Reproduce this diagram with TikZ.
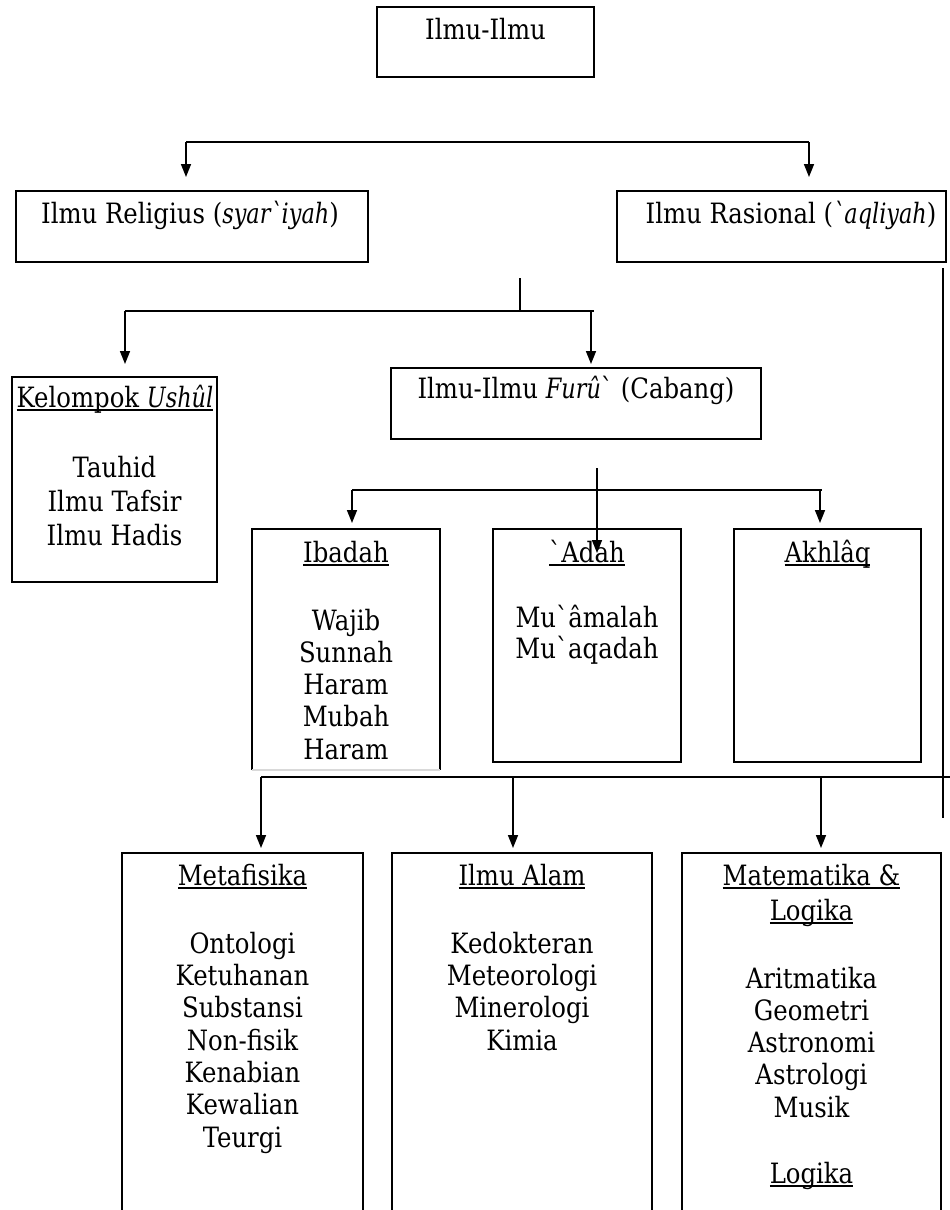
\documentclass[tikz,border=0pt]{standalone}
\usepackage{fontspec}
\setmainfont{DejaVu Serif}[FakeStretch=0.87,Ligatures=TeXOff,
  ItalicFeatures={FakeStretch=0.8}]
\usetikzlibrary{arrows.meta}
% underline placed close to the baseline, crossing descenders
\newsavebox{\ulsave}
\newcommand{\ulbar}[1]{\sbox{\ulsave}{#1}\rlap{\rule[-3.5pt]{\wd\ulsave}{1.6pt}}\usebox{\ulsave}}
\begin{document}
\begin{tikzpicture}[x=1pt,y=-1pt,
  frame/.style={draw, line width=1.8pt, inner sep=0pt, outer sep=0pt},
  hollow/.style={inner sep=0pt, outer sep=0pt},
  edge/.style={line width=1.8pt},
  txt/.style={anchor=base, inner sep=0pt, font=\fontsize{28}{32.4}\selectfont},
  bus/.style={line width=2.6pt},
  arr/.style={line width=1.6pt, -{Triangle[width=10pt,length=13pt]}}]
\useasboundingbox (0,0) rectangle (950,1210);

% ---------- boxes ----------
\node[frame, minimum width=217pt, minimum height=70pt] (top)   at (485.5,42) {};
\node[frame, minimum width=352pt, minimum height=71pt] (relig) at (192,226.5) {};
\node[frame, minimum width=329pt, minimum height=71pt] (rasio) at (781.5,226.5) {};
\node[frame, minimum width=205pt, minimum height=205pt] (kel)  at (114.5,479.5) {};
\node[frame, minimum width=370pt, minimum height=71pt] (furu)  at (576,403.5) {};
\node[hollow, minimum width=188pt, minimum height=241pt] (ibadah) at (346,649.5) {};
\node[frame, minimum width=188pt, minimum height=233pt] (adah)   at (587,645.5) {};
\node[frame, minimum width=187pt, minimum height=233pt] (akhlaq) at (827.5,645.5) {};
\node[frame, minimum width=241pt, minimum height=377pt] (meta)  at (242.5,1041.5) {};
\node[frame, minimum width=260pt, minimum height=377pt] (alam)  at (522,1041.5) {};
\node[frame, minimum width=259pt, minimum height=377pt] (matem) at (811.5,1041.5) {};

% Ibadah box: three dark sides, faint bottom
\draw[edge] (ibadah.south west) -- (ibadah.north west) -- (ibadah.north east) -- (ibadah.south east);
\draw[line width=1.5pt, black!15] (ibadah.south west) -- (ibadah.south east);

% ---------- texts ----------
\node[txt] (topT)   at (485.5,39) {Ilmu-Ilmu};
\node[txt] (religT) at (190,223) {Ilmu Religius (\textit{syar`iyah})};
\node[txt] (rasioT) at (791,223) {Ilmu Rasional (\textit{`aqliyah})};
\node[txt] (kelT)   at (115,407) {\ulbar{Kelompok \textit{Ushûl}}};
\node[txt] (kel1)   at (114.5,477) {Tauhid};
\node[txt] (kel2)   at (114.5,511) {Ilmu Tafsir};
\node[txt] (kel3)   at (114.5,545) {Ilmu Hadis};
\node[txt] (furuT)  at (576,398) {Ilmu-Ilmu \textit{Furû}` (Cabang)};

\node[txt] (ibadahT) at (346,562) {\ulbar{Ibadah}};
\foreach \t [count=\i] in {Wajib,Sunnah,Haram,Mubah,Haram}
  \node[txt] (ibadah-\i) at (346,{630+32.25*(\i-1)}) {\t};
\node[txt] (adahT) at (587,562) {\ulbar{`Adah}};
\node[txt] (adah-1) at (587,627) {Mu`âmalah};
\node[txt] (adah-2) at (587,658) {Mu`aqadah};
\node[txt] (akhlaqT) at (827.5,562) {\ulbar{Akhlâq}};

\node[txt] (metaT) at (242.5,885) {\ulbar{Metafisika}};
\foreach \t [count=\i] in {Ontologi,Ketuhanan,Substansi,Non-fisik,Kenabian,Kewalian,Teurgi}
  \node[txt] (meta-\i) at (242.5,{953+32.35*(\i-1)}) {\t};
\node[txt] (alamT) at (522,885) {\ulbar{Ilmu Alam}};
\foreach \t [count=\i] in {Kedokteran,Meteorologi,Minerologi,Kimia}
  \node[txt] (alam-\i) at (522,{953+32.35*(\i-1)}) {\t};
\node[txt] (matT1) at (811.5,885) {\ulbar{Matematika \&}};
\node[txt] (matT2) at (811.5,920) {\ulbar{Logika}};
\foreach \t [count=\i] in {Aritmatika,Geometri,Astronomi,Astrologi,Musik}
  \node[txt] (mat-\i) at (811.5,{988+32.25*(\i-1)}) {\t};
\node[txt] (matL) at (811.5,1183) {\ulbar{Logika}};

% ---------- connectors ----------
% first split
\coordinate (b1l) at (186,142);
\coordinate (b1r) at (809,142);
\coordinate (t1l) at (186,177);
\coordinate (t1r) at (809,177);
\draw[bus] (b1l) -- (b1r);
\draw[arr] (b1l) -- (t1l);
\draw[arr] (b1r) -- (t1r);

% second split
\coordinate (s2a) at (520,278);
\coordinate (s2b) at (520,312);
\coordinate (b2l) at (125,311);
\coordinate (b2r) at (594,311);
\coordinate (b2m) at (591,311);
\coordinate (t2l) at (125,364);
\coordinate (t2r) at (591,364);
\draw[bus] (s2a) -- (s2b);
\draw[bus] (b2l) -- (b2r);
\draw[arr] (b2l) -- (t2l);
\draw[arr] (b2m) -- (t2r);

% third split
\coordinate (s3a) at (597,468);
\coordinate (t3m) at (597,553);
\coordinate (b3l) at (352,490);
\coordinate (b3r) at (822,490);
\coordinate (b3m) at (820,490);
\coordinate (t3l) at (352,523);
\coordinate (t3r) at (820,523);
\draw[bus] (b3l) -- (b3r);
\draw[arr] (s3a) -- (t3m);
\draw[arr] (b3l) -- (t3l);
\draw[arr] (b3m) -- (t3r);

% fourth split, fed from the rational branch
\coordinate (r4a) at (943,268);
\coordinate (r4b) at (943,818);
\coordinate (b4l) at (261,777);
\coordinate (b4r) at (950,777);
\coordinate (b4m) at (513,777);
\coordinate (b4n) at (821,777);
\coordinate (t4l) at (261,848);
\coordinate (t4m) at (513,848);
\coordinate (t4n) at (821,848);
\draw[edge] (r4a) -- (r4b);
\draw[bus] (b4l) -- (b4r);
\draw[arr] (b4l) -- (t4l);
\draw[arr] (b4m) -- (t4m);
\draw[arr] (b4n) -- (t4n);
\end{tikzpicture}
\end{document}
